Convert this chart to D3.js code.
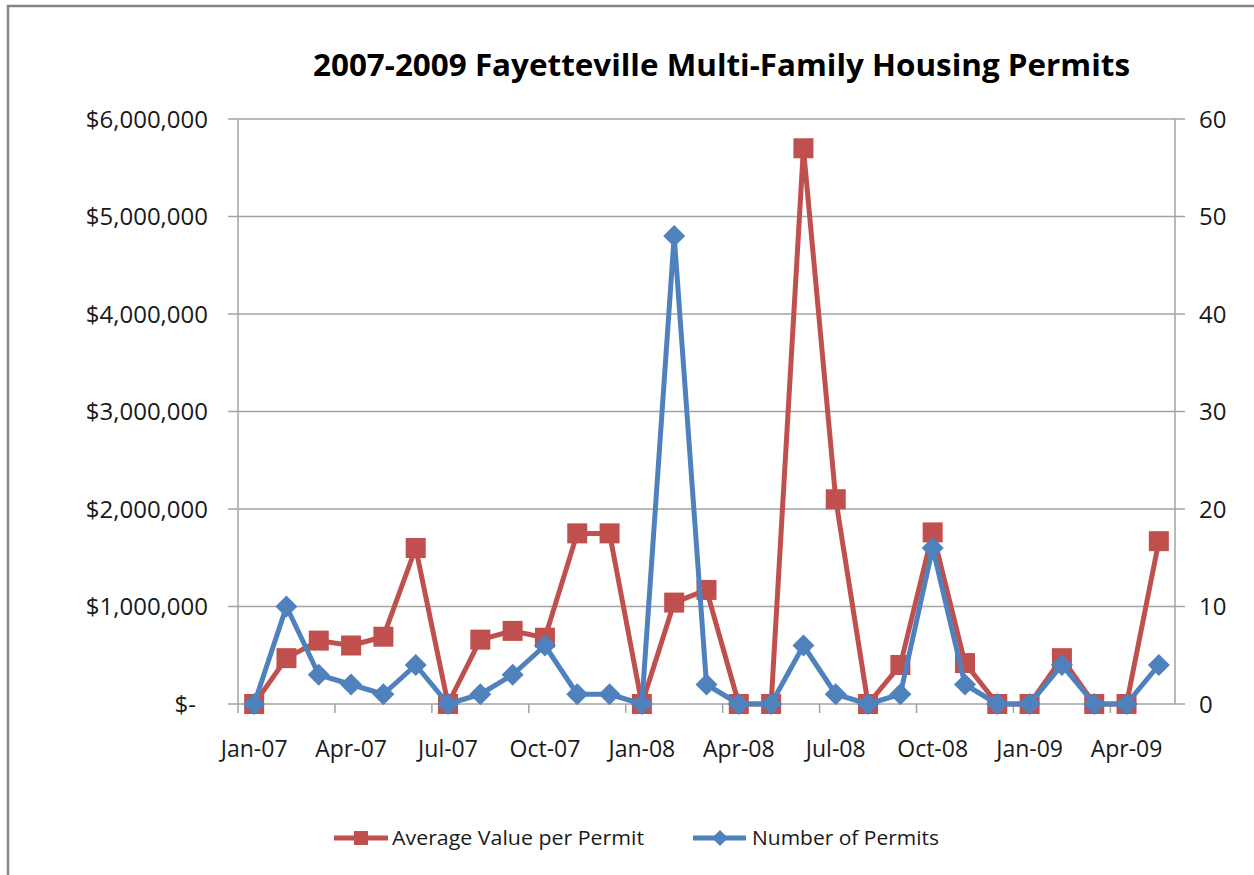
<!DOCTYPE html>
<html>
<head>
<meta charset="utf-8">
<script src="https://cdn.jsdelivr.net/npm/d3@7/dist/d3.min.js"></script>
<style>
  html, body { margin: 0; padding: 0; background: #fff; }
  svg { display: block; }
  text { font-family: "Open Sans", "Noto Sans", sans-serif; fill: #1a1a1a; }
</style>
</head>
<body>
<svg id="chart" width="1254" height="875"></svg>
<script>
const months = ["Jan-07","Feb-07","Mar-07","Apr-07","May-07","Jun-07","Jul-07","Aug-07","Sep-07","Oct-07","Nov-07","Dec-07",
                "Jan-08","Feb-08","Mar-08","Apr-08","May-08","Jun-08","Jul-08","Aug-08","Sep-08","Oct-08","Nov-08","Dec-08",
                "Jan-09","Feb-09","Mar-09","Apr-09","May-09"];
const avgValue = [0, 470000, 650000, 600000, 690000, 1600000, 0, 660000, 750000, 680000, 1750000, 1750000,
                  0, 1040000, 1170000, 0, 0, 5700000, 2100000, 0, 400000, 1760000, 420000, 0,
                  0, 470000, 0, 0, 1670000];
const numPermits = [0, 10, 3, 2, 1, 4, 0, 1, 3, 6, 1, 1,
                    0, 48, 2, 0, 0, 6, 1, 0, 1, 16, 2, 0,
                    0, 4, 0, 0, 4];
const xTickLabels = ["Jan-07","Apr-07","Jul-07","Oct-07","Jan-08","Apr-08","Jul-08","Oct-08","Jan-09","Apr-09"];
const leftTicks = [0, 1000000, 2000000, 3000000, 4000000, 5000000, 6000000];
const rightTicks = [0, 10, 20, 30, 40, 50, 60];
const title = "2007-2009 Fayetteville Multi-Family Housing Permits";
const seriesNames = ["Average Value per Permit", "Number of Permits"];

const RED = "#C0504D", BLUE = "#4F81BD", GRID = "#a3a3a3";
const svg = d3.select("#chart");
const L = 238, R = 1175, T = 119, B = 704;

// outer border
svg.append("rect").attr("x", 8).attr("y", 6).attr("width", 1300).attr("height", 1000)
  .attr("fill", "none").attr("stroke", "#868686").attr("stroke-width", 2.5);

const x = d3.scaleBand().domain(months).range([L, R]).paddingInner(0).paddingOuter(0);
const yL = d3.scaleLinear().domain([0, 6000000]).range([B, T]);
const yR = d3.scaleLinear().domain([0, 60]).range([B, T]);
const cx = m => x(m) + x.bandwidth() / 2;

// gridlines
svg.append("g").selectAll("line").data(leftTicks).join("line")
  .attr("x1", L - 10).attr("x2", R + 10)
  .attr("y1", d => yL(d)).attr("y2", d => yL(d))
  .attr("stroke", GRID).attr("stroke-width", 1.5);

// vertical axes
svg.append("line").attr("x1", L).attr("x2", L).attr("y1", T).attr("y2", B).attr("stroke", GRID).attr("stroke-width", 1.5);
svg.append("line").attr("x1", R).attr("x2", R).attr("y1", T).attr("y2", B).attr("stroke", GRID).attr("stroke-width", 1.5);

// bottom tick marks at category boundaries every 3
const bTicks = months.filter((m, i) => i % 3 === 0);
svg.append("g").selectAll("line").data(bTicks).join("line")
  .attr("x1", d => x(d)).attr("x2", d => x(d))
  .attr("y1", B).attr("y2", B + 9)
  .attr("stroke", GRID).attr("stroke-width", 1.5);

// left labels
const fmt = d3.format(",");
svg.append("g").selectAll("text").data(leftTicks).join("text")
  .attr("x", d => d === 0 ? 196 : 208)
  .attr("y", d => yL(d)).attr("dy", "0.36em")
  .attr("text-anchor", "end").attr("font-size", 24)
  .text(d => d === 0 ? "$-" : "$" + fmt(d));

// right labels
svg.append("g").selectAll("text").data(rightTicks).join("text")
  .attr("x", 1199).attr("y", d => yR(d)).attr("dy", "0.36em")
  .attr("text-anchor", "start").attr("font-size", 24)
  .text(d => d);

// x labels
svg.append("g").selectAll("text").data(xTickLabels).join("text")
  .attr("x", d => cx(d)).attr("y", 757)
  .attr("text-anchor", "middle").attr("font-size", 23)
  .text(d => d);

// title
svg.append("text").attr("x", 313).attr("y", 76)
  .attr("font-size", 31).attr("font-weight", "bold")
  .attr("textLength", 817).attr("lengthAdjust", "spacingAndGlyphs")
  .style("fill", "#000")
  .text(title);

// lines
const lineL = d3.line().x((d, i) => cx(months[i])).y(d => yL(d));
const lineR = d3.line().x((d, i) => cx(months[i])).y(d => yR(d));

svg.append("path").datum(avgValue).attr("d", lineL)
  .attr("fill", "none").attr("stroke", RED).attr("stroke-width", 5).attr("stroke-linejoin", "round");
svg.append("g").selectAll("rect").data(avgValue).join("rect")
  .attr("x", (d, i) => cx(months[i]) - 10).attr("y", d => yL(d) - 10)
  .attr("width", 20).attr("height", 20).attr("fill", RED);

svg.append("path").datum(numPermits).attr("d", lineR)
  .attr("fill", "none").attr("stroke", BLUE).attr("stroke-width", 5).attr("stroke-linejoin", "round");
svg.append("g").selectAll("path.dm").data(numPermits).join("path")
  .attr("class", "dm")
  .attr("d", (d, i) => {
    const px = cx(months[i]), py = yR(d), s = 11;
    return `M${px},${py - s}L${px + s},${py}L${px},${py + s}L${px - s},${py}Z`;
  })
  .attr("fill", BLUE);

// legend
const lg = svg.append("g");
lg.append("line").attr("x1", 334).attr("x2", 388).attr("y1", 838).attr("y2", 838).attr("stroke", RED).attr("stroke-width", 5);
lg.append("rect").attr("x", 361 - 7).attr("y", 838 - 7).attr("width", 14).attr("height", 14).attr("fill", RED);
lg.append("text").attr("x", 392).attr("y", 838).attr("dy", "0.36em").attr("font-size", 20)
  .attr("textLength", 252).attr("lengthAdjust", "spacingAndGlyphs").text(seriesNames[0]);
lg.append("line").attr("x1", 693).attr("x2", 746).attr("y1", 838).attr("y2", 838).attr("stroke", BLUE).attr("stroke-width", 5);
lg.append("path").attr("d", "M720,830L728,838L720,846L712,838Z").attr("fill", BLUE);
lg.append("text").attr("x", 752).attr("y", 838).attr("dy", "0.36em").attr("font-size", 20)
  .attr("textLength", 187).attr("lengthAdjust", "spacingAndGlyphs").text(seriesNames[1]);
</script>
</body>
</html>
